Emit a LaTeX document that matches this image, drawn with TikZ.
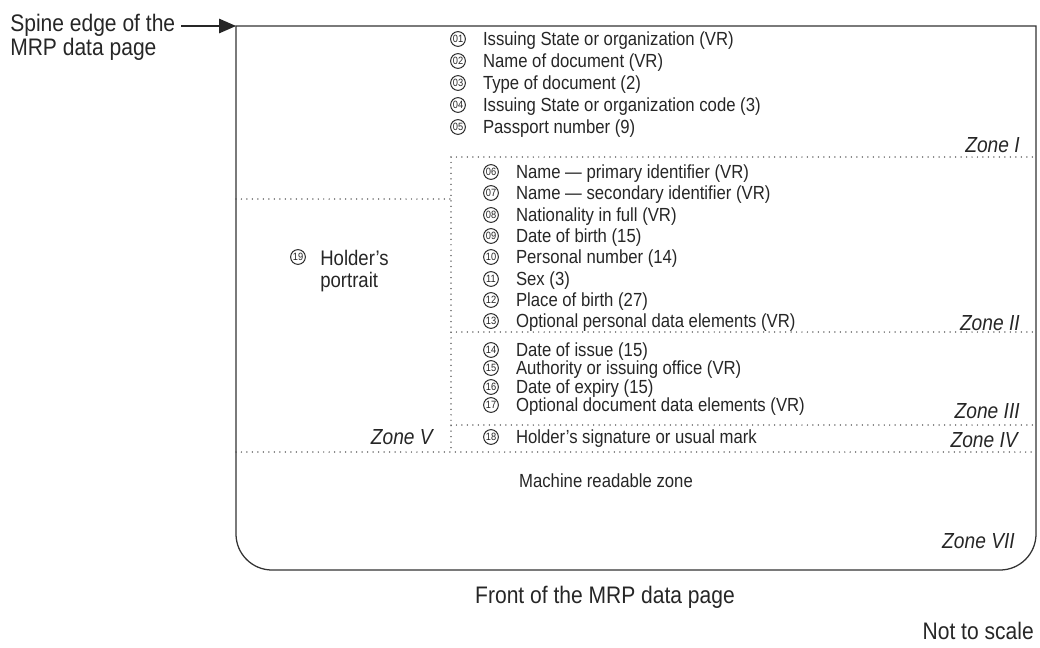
\documentclass[tikz,border=0pt]{standalone}
\usepackage{fontspec}
\setmainfont[FakeStretch=0.88]{Liberation Sans}
\usetikzlibrary{positioning}
\usetikzlibrary{arrows.meta}

\tikzset{
    field/.style={anchor=west, inner sep=0, font=\fontsize{13.5}{16}\selectfont,
        text height=9.7pt, text depth=0pt},
    numcircle/.style={circle, draw=black!85, line width=0.7pt, inner sep=0,
        minimum size=10.5pt, font=\fontsize{7.5}{7.5}\selectfont},
    zonelabel/.style={anchor=base east, inner sep=0,
        font=\fontsize{15.5}{18}\selectfont\itshape},
    zoneline/.style={black!80, line width=1.05pt, dash pattern=on 0pt off 3.9pt,
        line cap=round},
    bigtext/.style={inner sep=0, font=\fontsize{17}{17}\selectfont},
}

\begin{document}
\begin{tikzpicture}[x=0.025cm, y=-0.025cm, text=black!85]
    \newcommand\pagel{236}
\newcommand\pager{1036}
\newcommand\paget{26}
\newcommand\pageb{570}
\newcommand\splitx{451}
\newcommand\zoneone{157}
\newcommand\zonetwo{332}
\newcommand\zonethree{425}
\newcommand\zonefour{452}
\newcommand\portraity{199}

\useasboundingbox (0,0) rectangle (1040,647);

% data page, square at the spine side on top
\draw[black!80, line width=0.9pt] (600,\paget) -- (\pagel,\paget) -- (\pagel,300)
    [rounded corners=0.9cm] -- (\pagel,\pageb) -- (\pager,\pageb) -- (\pager,300)
    [sharp corners] -- (\pager,\paget) -- cycle;

\coordinate (spine) at (\pagel,\paget);

% zone boundaries
\draw[zoneline] (\splitx,\zoneone) -- (\pager,\zoneone);
\draw[zoneline] (\splitx,\zonetwo) -- (\pager,\zonetwo);
\draw[zoneline] (\splitx,\zonethree) -- (\pager,\zonethree);
\draw[zoneline] (\pagel,\zonefour) -- (\pager,\zonefour);
\draw[zoneline] (\pagel,\portraity) -- (\splitx,\portraity);
\draw[zoneline] (\splitx,\zoneone) -- (\splitx,\zonefour);

    % zone I
    \foreach \num/\y/\txt in {01/39/Issuing State or organization (VR),
        02/61/Name of document (VR), 03/83/Type of document (2),
        04/105/Issuing State or organization code (3), 05/127/Passport number (9)}
    {
        \node[numcircle] (c\num) at (458,\y) {\num};
        \node[field, right=12pt of c\num] (f\num) {\txt};
    }

    % zones II to IV
    \foreach \num/\y/\txt in {06/172/Name — primary identifier (VR),
        07/193/Name — secondary identifier (VR), 08/215/Nationality in full (VR),
        09/236/Date of birth (15), 10/257/Personal number (14), 11/279/Sex (3),
        12/300/Place of birth (27), 13/321/Optional personal data elements (VR),
        14/350/Date of issue (15), 15/368/Authority or issuing office (VR),
        16/387/Date of expiry (15), 17/405/Optional document data elements (VR),
        18/437/Holder’s signature or usual mark}
    {
        \node[numcircle] (c\num) at (491,\y) {\num};
        \node[field, right=12pt of c\num] (f\num) {\txt};
    }

    \node[numcircle] (c19) at (298,257) {19};
    \node[anchor=north west, inner sep=0, align=left,
        font=\fontsize{15}{15.6}\selectfont] (f19) at (320,249.5) {Holder’s\\portrait};

    \node[zonelabel] (zone1) at (1020,152) {Zone I};
    \node[zonelabel] (zone2) at (1020,330) {Zone II};
    \node[zonelabel] (zone3) at (1020,418) {Zone III};
    \node[zonelabel] (zone4) at (1018,447) {Zone IV};
    \node[zonelabel] (zone5) at (433,444) {Zone V};
    \node[zonelabel] (zone7) at (1015,548) {Zone VII};

    \node[anchor=base, inner sep=0, font=\fontsize{13.5}{16}\selectfont] (mrz)
        at (606,487) {Machine readable zone};

    \node[bigtext, anchor=base] (front) at (605,603) {Front of the MRP data page};
    \node[bigtext, anchor=base east] (scale) at (1034,639) {Not to scale};

    \node[bigtext, anchor=base west] (spine-a) at (10,31) {Spine edge of the};
    \node[bigtext, anchor=base west] (spine-b) at (10,55) {MRP data page};
    \draw[black!85, line width=0.8pt, -{Triangle[length=0.42cm, width=0.36cm]}]
        ([xshift=4pt]spine-a.east |- spine) -- (spine);
\end{tikzpicture}
\end{document}
